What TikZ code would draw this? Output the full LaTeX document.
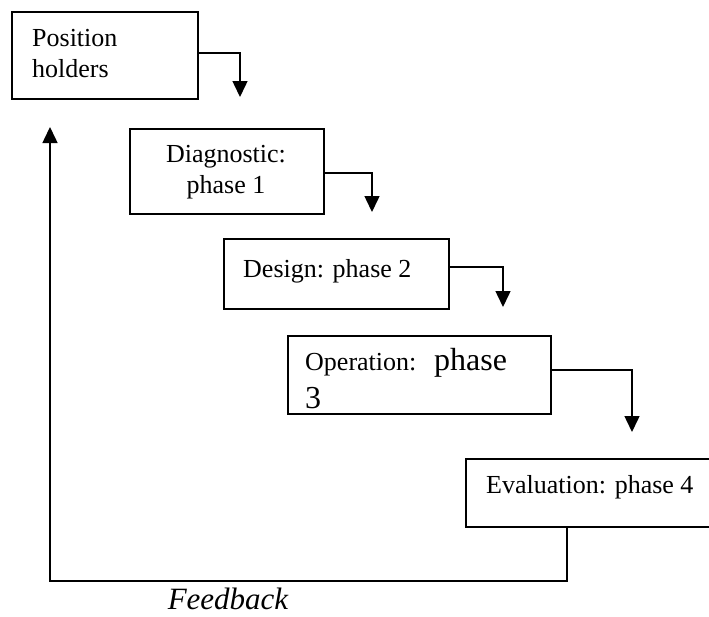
\documentclass[tikz,border=0pt]{standalone}
\usepackage{fontspec}
\setmainfont{Liberation Serif}
\usetikzlibrary{arrows.meta}
\begin{document}
\begin{tikzpicture}[x=1pt,y=-1pt,
  phasebox/.style={draw=black,line width=1.7pt,rectangle,inner sep=0pt},
  lbl/.style={inner sep=0pt,anchor=base west,font=\fontsize{26}{31}\selectfont},
  flow/.style={line width=1.5pt,-{Triangle[length=16pt,width=15pt]}},
  back/.style={line width=1.5pt,-{Triangle[length=16pt,width=15pt]}}]
\useasboundingbox (0,0) rectangle (709,616);

% phase boxes, corner to corner
\node[phasebox,minimum width=186pt,minimum height=87pt,anchor=north west] (b1) at (11,11) {};
\node[phasebox,minimum width=194pt,minimum height=85pt,anchor=north west] (b2) at (129,128) {};
\node[phasebox,minimum width=225pt,minimum height=70pt,anchor=north west] (b3) at (223,238) {};
\node[phasebox,minimum width=263pt,minimum height=78pt,anchor=north west] (b4) at (287,335) {};
\node[phasebox,minimum width=250pt,minimum height=68pt,anchor=north west] (b5) at (465,458) {};

% labels
\node[lbl] (t1a) at (32,46) {Position};
\node[lbl] (t1b) at (32,77) {holders};
\node[lbl,anchor=base] (t2a) at (226,162) {Diagnostic:};
\node[lbl,anchor=base] (t2b) at (226,193) {phase 1};
\node[lbl] (t3) at (243,277) {Design: phase 2};
\node[lbl] (t4a) at (305,370) {Operation:};
\node[lbl,font=\fontsize{32}{38}\selectfont] (t4b) at (434,370) {phase};
\node[lbl,font=\fontsize{32}{38}\selectfont] (t4c) at (305,408) {3};
\node[lbl] (t5) at (486,493) {Evaluation: phase 4};
\node[lbl,anchor=base,font=\fontsize{31}{36}\itshape] (fb) at (228,609) {Feedback};

% step-down connectors
\coordinate (a1) at (240,97);
\coordinate (a2) at (372,212);
\coordinate (a3) at (503,307);
\coordinate (a4) at (632,432);
\draw[flow] (b1.east |- 0,53) -| (a1);
\draw[flow] (b2.east |- 0,173) -| (a2);
\draw[flow] (b3.east |- 0,267) -| (a3);
\draw[flow] (b4.east |- 0,370) -| (a4);

% feedback loop
\coordinate (f1) at (567,581);
\coordinate (f2) at (50,581);
\coordinate (f3) at (50,127);
\draw[back] (b5.south -| f1) -- (f1) -- (f2) -- (f3);
\end{tikzpicture}
\end{document}
